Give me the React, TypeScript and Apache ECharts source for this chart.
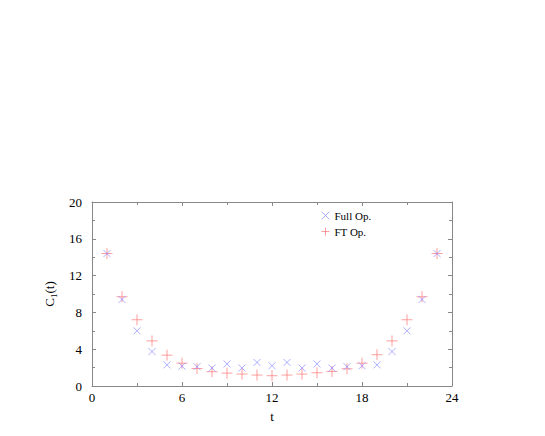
import React, { useEffect, useRef } from "react";
import * as echarts from "echarts";

const tValues = [1, 2, 3, 4, 5, 6, 7, 8, 9, 10, 11, 12, 13, 14, 15, 16, 17, 18, 19, 20, 21, 22, 23];
const fullOp = [14.4, 9.4, 6.0, 3.75, 2.3, 2.16, 2.1, 1.95, 2.4, 1.95, 2.56, 2.2, 2.56, 1.95, 2.4, 1.95, 2.1, 2.2, 2.3, 3.75, 6.0, 9.4, 14.4];
const ftOp = [14.4, 9.7, 7.2, 4.9, 3.35, 2.48, 1.9, 1.55, 1.4, 1.3, 1.19, 1.12, 1.19, 1.3, 1.44, 1.58, 1.87, 2.48, 3.4, 4.9, 7.2, 9.7, 14.4];
const seriesNames = ["Full Op.", "FT Op."];
const seriesColors = ["#8080ff", "#ff6a6a"];

const CROSS = "path://M0,0L10,10M10,0L0,10";
const PLUS = "path://M5,0L5,10M0,5L10,5";

export default function App() {
  const ref = useRef<HTMLDivElement>(null);
  useEffect(() => {
    if (!ref.current) return;
    const chart = echarts.init(ref.current, undefined, { renderer: "svg" });
    const font = "Liberation Serif";
    const axisLine = { show: true, onZero: false, lineStyle: { color: "#888", width: 1 } };
    const tick = { show: true, inside: true, length: 4, lineStyle: { color: "#888" } };
    const minor = { show: true, splitNumber: 2, length: 3, lineStyle: { color: "#888" } };
    chart.setOption({
      animation: false,
      backgroundColor: "#fff",
      textStyle: { fontFamily: font },
      grid: { left: 84, top: 194, width: 360, height: 184, containLabel: false },
      legend: {
        orient: "vertical",
        left: 306,
        top: 196,
        itemWidth: 8,
        itemHeight: 8,
        itemGap: 3,
        textStyle: { fontFamily: font, fontSize: 11, color: "#000" },
        data: seriesNames.map((name, i) => ({
          name,
          itemStyle: { color: "none", borderColor: seriesColors[i], borderWidth: 0.8 },
        })),
      },
      xAxis: [
        {
          type: "value",
          min: 0,
          max: 24,
          interval: 6,
          name: "t",
          nameLocation: "middle",
          nameGap: 24,
          nameTextStyle: { fontFamily: font, fontSize: 13, color: "#000" },
          axisLine,
          axisTick: tick,
          minorTick: minor,
          axisLabel: { fontFamily: font, fontSize: 13, color: "#000", margin: 5 },
          splitLine: { show: false },
        },
        {
          type: "value",
          position: "top",
          min: 0,
          max: 24,
          interval: 6,
          axisLine,
          axisTick: tick,
          minorTick: minor,
          axisLabel: { show: false },
          splitLine: { show: false },
        },
      ],
      yAxis: [
        {
          type: "value",
          min: 0,
          max: 20,
          interval: 4,
          name: "C{sub|1}(t)",
          nameLocation: "middle",
          nameGap: 33,
          nameRotate: 90,
          nameTextStyle: {
            fontFamily: font,
            fontSize: 13,
            color: "#000",
            rich: { sub: { fontFamily: font, fontSize: 9, color: "#000", padding: [8, 0, 0, 0] } },
          },
          axisLine,
          axisTick: tick,
          minorTick: minor,
          axisLabel: { fontFamily: font, fontSize: 13, color: "#000", margin: 10 },
          splitLine: { show: false },
        },
        {
          type: "value",
          position: "right",
          min: 0,
          max: 20,
          interval: 4,
          axisLine,
          axisTick: tick,
          minorTick: minor,
          axisLabel: { show: false },
          splitLine: { show: false },
        },
      ],
      series: [
        {
          name: seriesNames[0],
          type: "scatter",
          symbol: CROSS,
          symbolSize: 7,
          itemStyle: { color: "none", borderColor: seriesColors[0], borderWidth: 0.8 },
          data: tValues.map((t, i) => [t, fullOp[i]]),
          z: 3,
        },
        {
          name: seriesNames[1],
          type: "scatter",
          symbol: PLUS,
          symbolSize: 11,
          itemStyle: { color: "none", borderColor: seriesColors[1], borderWidth: 0.8 },
          data: tValues.map((t, i) => [t, ftOp[i]]),
          z: 2,
        },
      ],
    });
    return () => chart.dispose();
  }, []);
  return <div ref={ref} style={{ width: 545, height: 436 }} />;
}
